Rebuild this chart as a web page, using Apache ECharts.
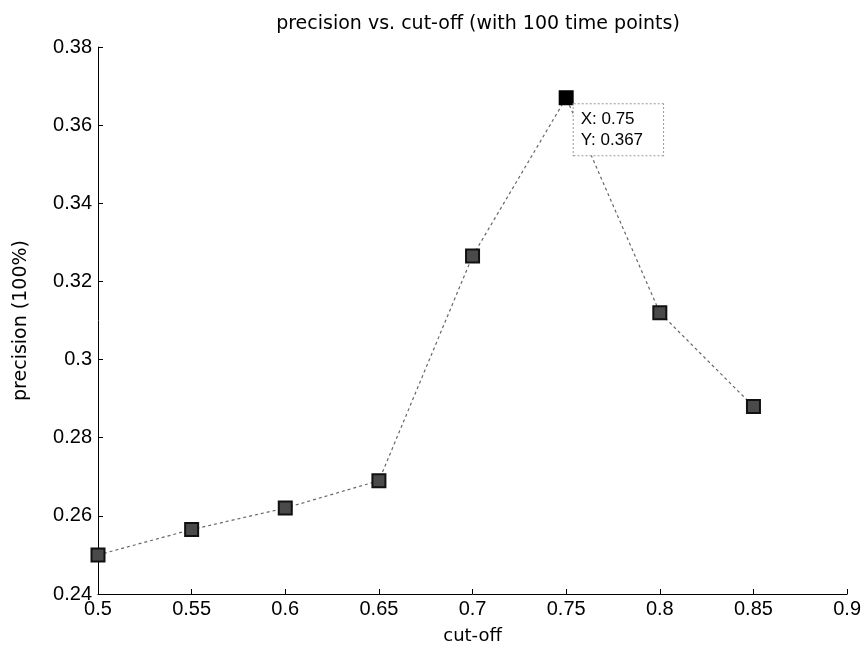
<!DOCTYPE html>
<html>
<head>
<meta charset="utf-8">
<title>precision vs. cut-off</title>
<script src="https://cdn.jsdelivr.net/npm/echarts@6/dist/echarts.min.js"></script>
<style>
  html, body { margin: 0; padding: 0; background: #fff; }
  #chart { width: 864px; height: 650px; }
</style>
</head>
<body>
<div id="chart"></div>
<script>
// cut-off thresholds and the precision measured at each one
const cutoffs = [0.5, 0.55, 0.6, 0.65, 0.7, 0.75, 0.8, 0.85];
const precision = [0.25, 0.2565, 0.262, 0.269, 0.3265, 0.367, 0.312, 0.288];
// index of the point carrying the data tip
const tipIndex = 5;

const font = '"Liberation Sans", Arial, sans-serif';
const wideFont = '"DejaVu Sans", Verdana, sans-serif';

const fmt = v => String(+v.toFixed(2));

const seriesData = cutoffs.map((x, i) => {
  const item = { value: [x, precision[i]] };
  if (i === tipIndex) {
    item.itemStyle = { color: '#000', borderColor: '#000' };
    item.label = {
      show: true,
      position: [15, 14],
      align: 'left',
      verticalAlign: 'top',
      formatter: 'X: ' + fmt(x) + '\nY: ' + precision[i],
      fontFamily: font,
      fontSize: 17,
      lineHeight: 21,
      color: '#000',
      backgroundColor: '#fff',
      borderColor: '#999',
      borderWidth: 1,
      borderType: 'dotted',
      padding: [5, 20, 4, 7]
    };
  }
  return item;
});

const chart = echarts.init(document.getElementById('chart'), null, { renderer: 'canvas' });
chart.setOption({
  animation: false,
  backgroundColor: '#fff',
  title: {
    text: 'precision vs. cut-off (with 100 time points)',
    left: 473,
    textAlign: 'center',
    top: 10,
    textStyle: { fontFamily: wideFont, fontSize: 19, fontWeight: 'normal', color: '#000' }
  },
  grid: { left: 98, right: 15, top: 47, bottom: 53 },
  xAxis: {
    type: 'value',
    min: 0.5,
    max: 0.9,
    interval: 0.05,
    name: 'cut-off',
    nameLocation: 'middle',
    nameGap: 33,
    nameTextStyle: { fontFamily: wideFont, fontSize: 18, color: '#000' },
    axisLine: { show: true, onZero: false, lineStyle: { color: '#000', width: 1 } },
    axisTick: { show: true, inside: true, length: 5, lineStyle: { color: '#000' } },
    axisLabel: { fontFamily: font, fontSize: 20, color: '#000', margin: 5, formatter: fmt },
    splitLine: { show: false }
  },
  yAxis: {
    type: 'value',
    min: 0.24,
    max: 0.38,
    interval: 0.02,
    name: 'precision (100%)',
    nameLocation: 'middle',
    nameGap: 67,
    nameTextStyle: { fontFamily: wideFont, fontSize: 19, color: '#000' },
    axisLine: { show: true, onZero: false, lineStyle: { color: '#000', width: 1 } },
    axisTick: { show: true, inside: true, length: 5, lineStyle: { color: '#000' } },
    axisLabel: { fontFamily: font, fontSize: 20, color: '#000', margin: 6, formatter: fmt },
    splitLine: { show: false }
  },
  series: [{
    type: 'line',
    data: seriesData,
    symbol: 'rect',
    symbolSize: 13,
    lineStyle: { color: '#666', width: 1.2, type: [3, 3] },
    itemStyle: { color: '#4a4a4a', borderColor: '#111', borderWidth: 2 },
    emphasis: { disabled: true },
    z: 3
  }]
});
</script>
</body>
</html>
